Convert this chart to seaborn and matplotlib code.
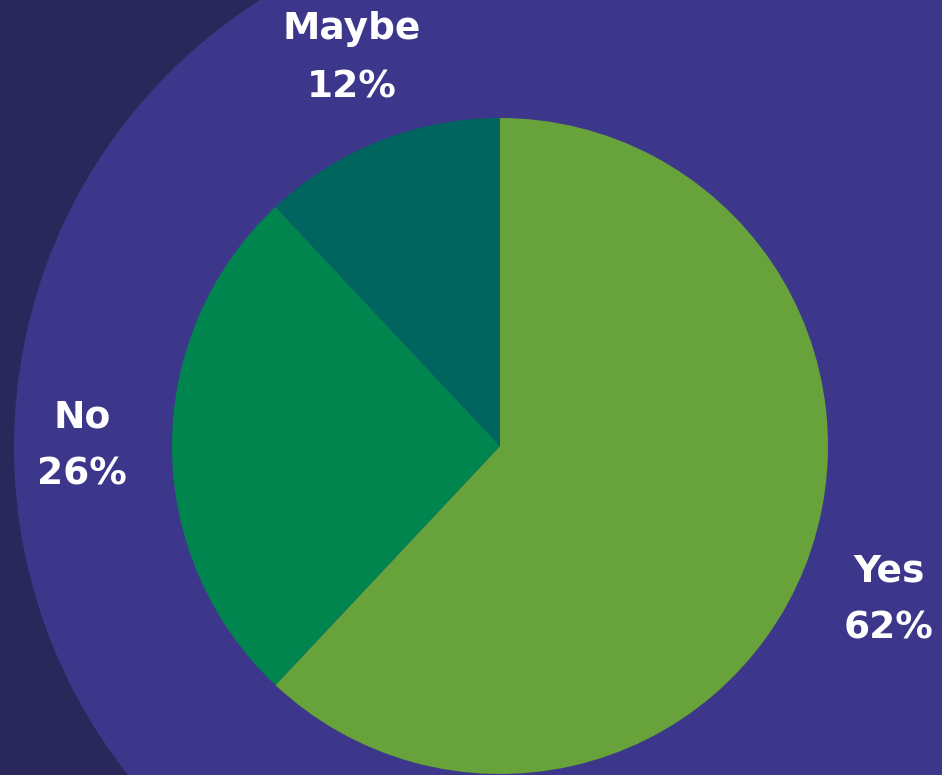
import matplotlib
matplotlib.use("Agg")
import matplotlib.pyplot as plt
from matplotlib.patches import Circle, Rectangle
import seaborn as sns

categories = ["Yes", "No", "Maybe"]
values = [62, 26, 12]
colors = ["#67A23A", "#00854F", "#00655F"]

sns.set_theme(style="white")
plt.rcParams["font.family"] = ["DejaVu Sans"]

W, H = 942, 775
fig = plt.figure(figsize=(W / 100, H / 100), dpi=100)
fig.patch.set_facecolor("#2A285A")
ax = fig.add_axes([0, 0, 1, 1])
ax.set_facecolor("#2A285A")

purple = "#3D378B"
ax.add_patch(Circle((543, H - 447), 529, facecolor=purple, edgecolor="none", zorder=0))
ax.add_patch(Rectangle((543, 0), W - 543, H, facecolor=purple, edgecolor="none", zorder=0))

labels = [f"{c}\n{v}%" for c, v in zip(categories, values)]
wedges, texts = ax.pie(values, colors=colors, startangle=90, counterclock=False,
                       center=(500, H - 446), radius=328, labels=labels,
                       labeldistance=1.275, frame=True,
                       wedgeprops=dict(linewidth=0, edgecolor="none"),
                       textprops=dict(color="white", fontsize=27, fontweight="bold",
                                      linespacing=1.78))
for t in texts:
    t.set_ha("center")
    t.set_va("center")
    t.set_multialignment("center")
# small nudge so the top label sits like the reference
x0, y0 = texts[2].get_position()
texts[2].set_position((x0 + 6, y0 - 1))
ax.set_xlim(0, W)
ax.set_ylim(0, H)
ax.set_aspect("auto")
ax.axis("off")

fig.savefig("out.png", dpi=100, facecolor=fig.get_facecolor())
